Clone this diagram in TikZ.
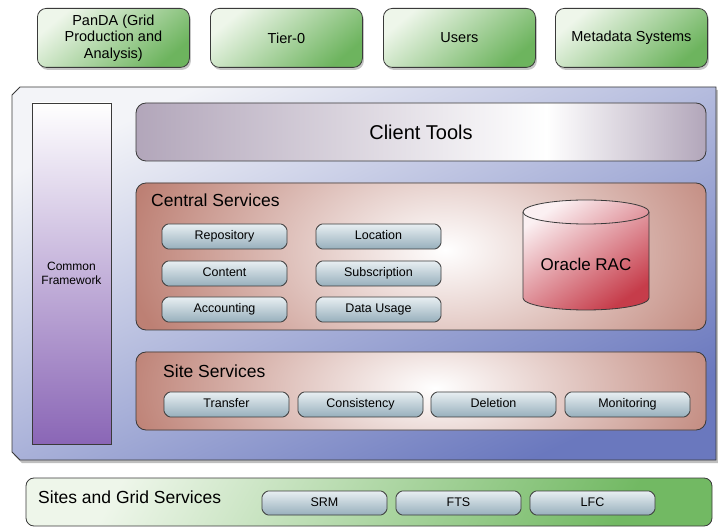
\documentclass[tikz,border=0pt]{standalone}
\usepackage{fontspec}
\setmainfont{Liberation Sans}
\usetikzlibrary{shadows}
\definecolor{lineC}{HTML}{3A3A3A}
\definecolor{tgA}{HTML}{EEF6EA}
\definecolor{tgB}{HTML}{6DB45E}
\definecolor{frA}{HTML}{F3F4F8}
\definecolor{frB}{HTML}{6A78BE}
\definecolor{cfB}{HTML}{8A66B6}
\definecolor{ctg}{HTML}{B2A6BA}
\definecolor{csOut}{HTML}{BD8074}
\definecolor{sbA}{HTML}{E8EFF2}
\definecolor{sbB}{HTML}{97AFBC}
\definecolor{cyA}{HTML}{FBF0F2}
\definecolor{cyB}{HTML}{C63C4A}
\definecolor{sgA}{HTML}{EEF6EA}
\definecolor{sgB}{HTML}{72B963}
\pgfdeclarehorizontalshading{ctshade}{100bp}{color(0bp)=(ctg); color(25bp)=(ctg); color(61bp)=(white); color(75bp)=(ctg); color(100bp)=(ctg)}
\tikzset{
  outline/.style={draw=lineC, line width=0.8pt},
  topbox/.style={outline, rounded corners=9pt, top color=tgA, bottom color=tgB, shading angle=40,
    drop shadow={opacity=0.45, shadow xshift=1.5pt, shadow yshift=-2.5pt},
    anchor=north west, inner sep=0pt, minimum width=152pt, minimum height=59pt, align=center,
    font=\fontsize{14.5}{16.5}\selectfont},
  svcfill/.style={outline, rounded corners=1.5pt, top color=sbA, bottom color=sbB},
  svctext/.style={inner sep=0pt, text height=9pt, text depth=2.6pt, font=\fontsize{12.5}{14}\selectfont},
  bigtitle/.style={anchor=base west, inner sep=0pt, font=\fontsize{17.5}{20}\selectfont}
}
% name, x, y, w, h, text
\newcommand\chbox[6]{%
  \path[svcfill] (#2+4.5,#3) -- (#2+#4-4.5,#3) -- (#2+#4,#3+4.5) -- (#2+#4,#3+#5-4.5)
    -- (#2+#4-4.5,#3+#5) -- (#2+4.5,#3+#5) -- (#2,#3+#5-4.5) -- (#2,#3+4.5) -- cycle;
  \node[svctext] (#1) at (#2+#4/2,#3+#5/2) {#6};}
\begin{document}
\begin{tikzpicture}[x=1pt,y=-1pt]
\useasboundingbox (0,0) rectangle (718,529);
% top boxes
\node[topbox] (panda) at (37,8) {PanDA (Grid\\Production and\\Analysis)};
\node[topbox] (tier0) at (210,8) {Tier-0};
\node[topbox] (users) at (383,8) {Users};
\node[topbox] (meta) at (555,8) {Metadata Systems};
% big frame
\path[outline, top color=frA, bottom color=frB, shading angle=25,
  drop shadow={opacity=0.5, shadow xshift=2pt, shadow yshift=-3pt}]
  (20,87) -- (716,87) -- (716,460) -- (20,460) -- (12,452) -- (12,95) -- cycle;
% common framework
\path[outline, top color=white, bottom color=cfB] (32,103) rectangle (111,444);
\node[align=center, font=\fontsize{12}{14}\selectfont] (common) at (71.5,273) {Common\\Framework};
% client tools
\path[outline, rounded corners=10pt, shading=ctshade] (136,103) rectangle (706,161);
\node[font=\fontsize{20}{24}\selectfont] (client) at (421,132) {Client Tools};
% central services
\begin{scope}
  \clip[rounded corners=10pt] (136,183) rectangle (706,330);
  \fill[csOut] (130,178) rectangle (712,336);
  \shade[inner color=white, outer color=csOut] (445,250) ellipse[x radius=320, y radius=190];
\end{scope}
\draw[outline, rounded corners=10pt] (136,183) rectangle (706,330);
\node[bigtitle] (central) at (151,207) {Central Services};
\chbox{repo}{162}{224}{125}{25}{Repository}
\chbox{content}{162}{261}{125}{25}{Content}
\chbox{acct}{162}{297}{125}{25}{Accounting}
\chbox{loc}{316}{224}{125}{25}{Location}
\chbox{subs}{316}{261}{125}{25}{Subscription}
\chbox{usage}{316}{297}{125}{25}{Data Usage}
% oracle cylinder
\path[outline, top color=cyA, bottom color=cyB, shading angle=35]
  (523,212) -- (523,298) arc[start angle=180, end angle=0, x radius=63, y radius=12]
  -- (649,212) arc[start angle=0, end angle=-180, x radius=63, y radius=12] -- cycle;
\draw[outline] (523,212) arc[start angle=180, end angle=0, x radius=63, y radius=12];
\node[font=\fontsize{17}{20}\selectfont] (oracle) at (586,264) {Oracle RAC};
% site services
\begin{scope}
  \clip[rounded corners=10pt] (136,352) rectangle (706,430);
  \fill[csOut] (130,346) rectangle (712,436);
  \shade[inner color=white, outer color=csOut] (435,388) ellipse[x radius=315, y radius=150];
\end{scope}
\draw[outline, rounded corners=10pt] (136,352) rectangle (706,430);
\node[bigtitle] (site) at (163,378) {Site Services};
\chbox{transfer}{164}{392}{125}{25}{Transfer}
\chbox{consist}{298}{392}{125}{25}{Consistency}
\chbox{deletion}{431}{392}{125}{25}{Deletion}
\chbox{monitor}{565}{392}{125}{25}{Monitoring}
% sites and grid services
\path[outline, rounded corners=8pt, top color=sgA, bottom color=sgB, shading angle=60] (26,478) rectangle (712,526);
\node[bigtitle] (grid) at (38,503) {Sites and Grid Services};
\chbox{srm}{262}{491}{125}{24}{SRM}
\chbox{fts}{396}{491}{125}{24}{FTS}
\chbox{lfc}{530}{491}{125}{24}{LFC}
\end{tikzpicture}
\end{document}
